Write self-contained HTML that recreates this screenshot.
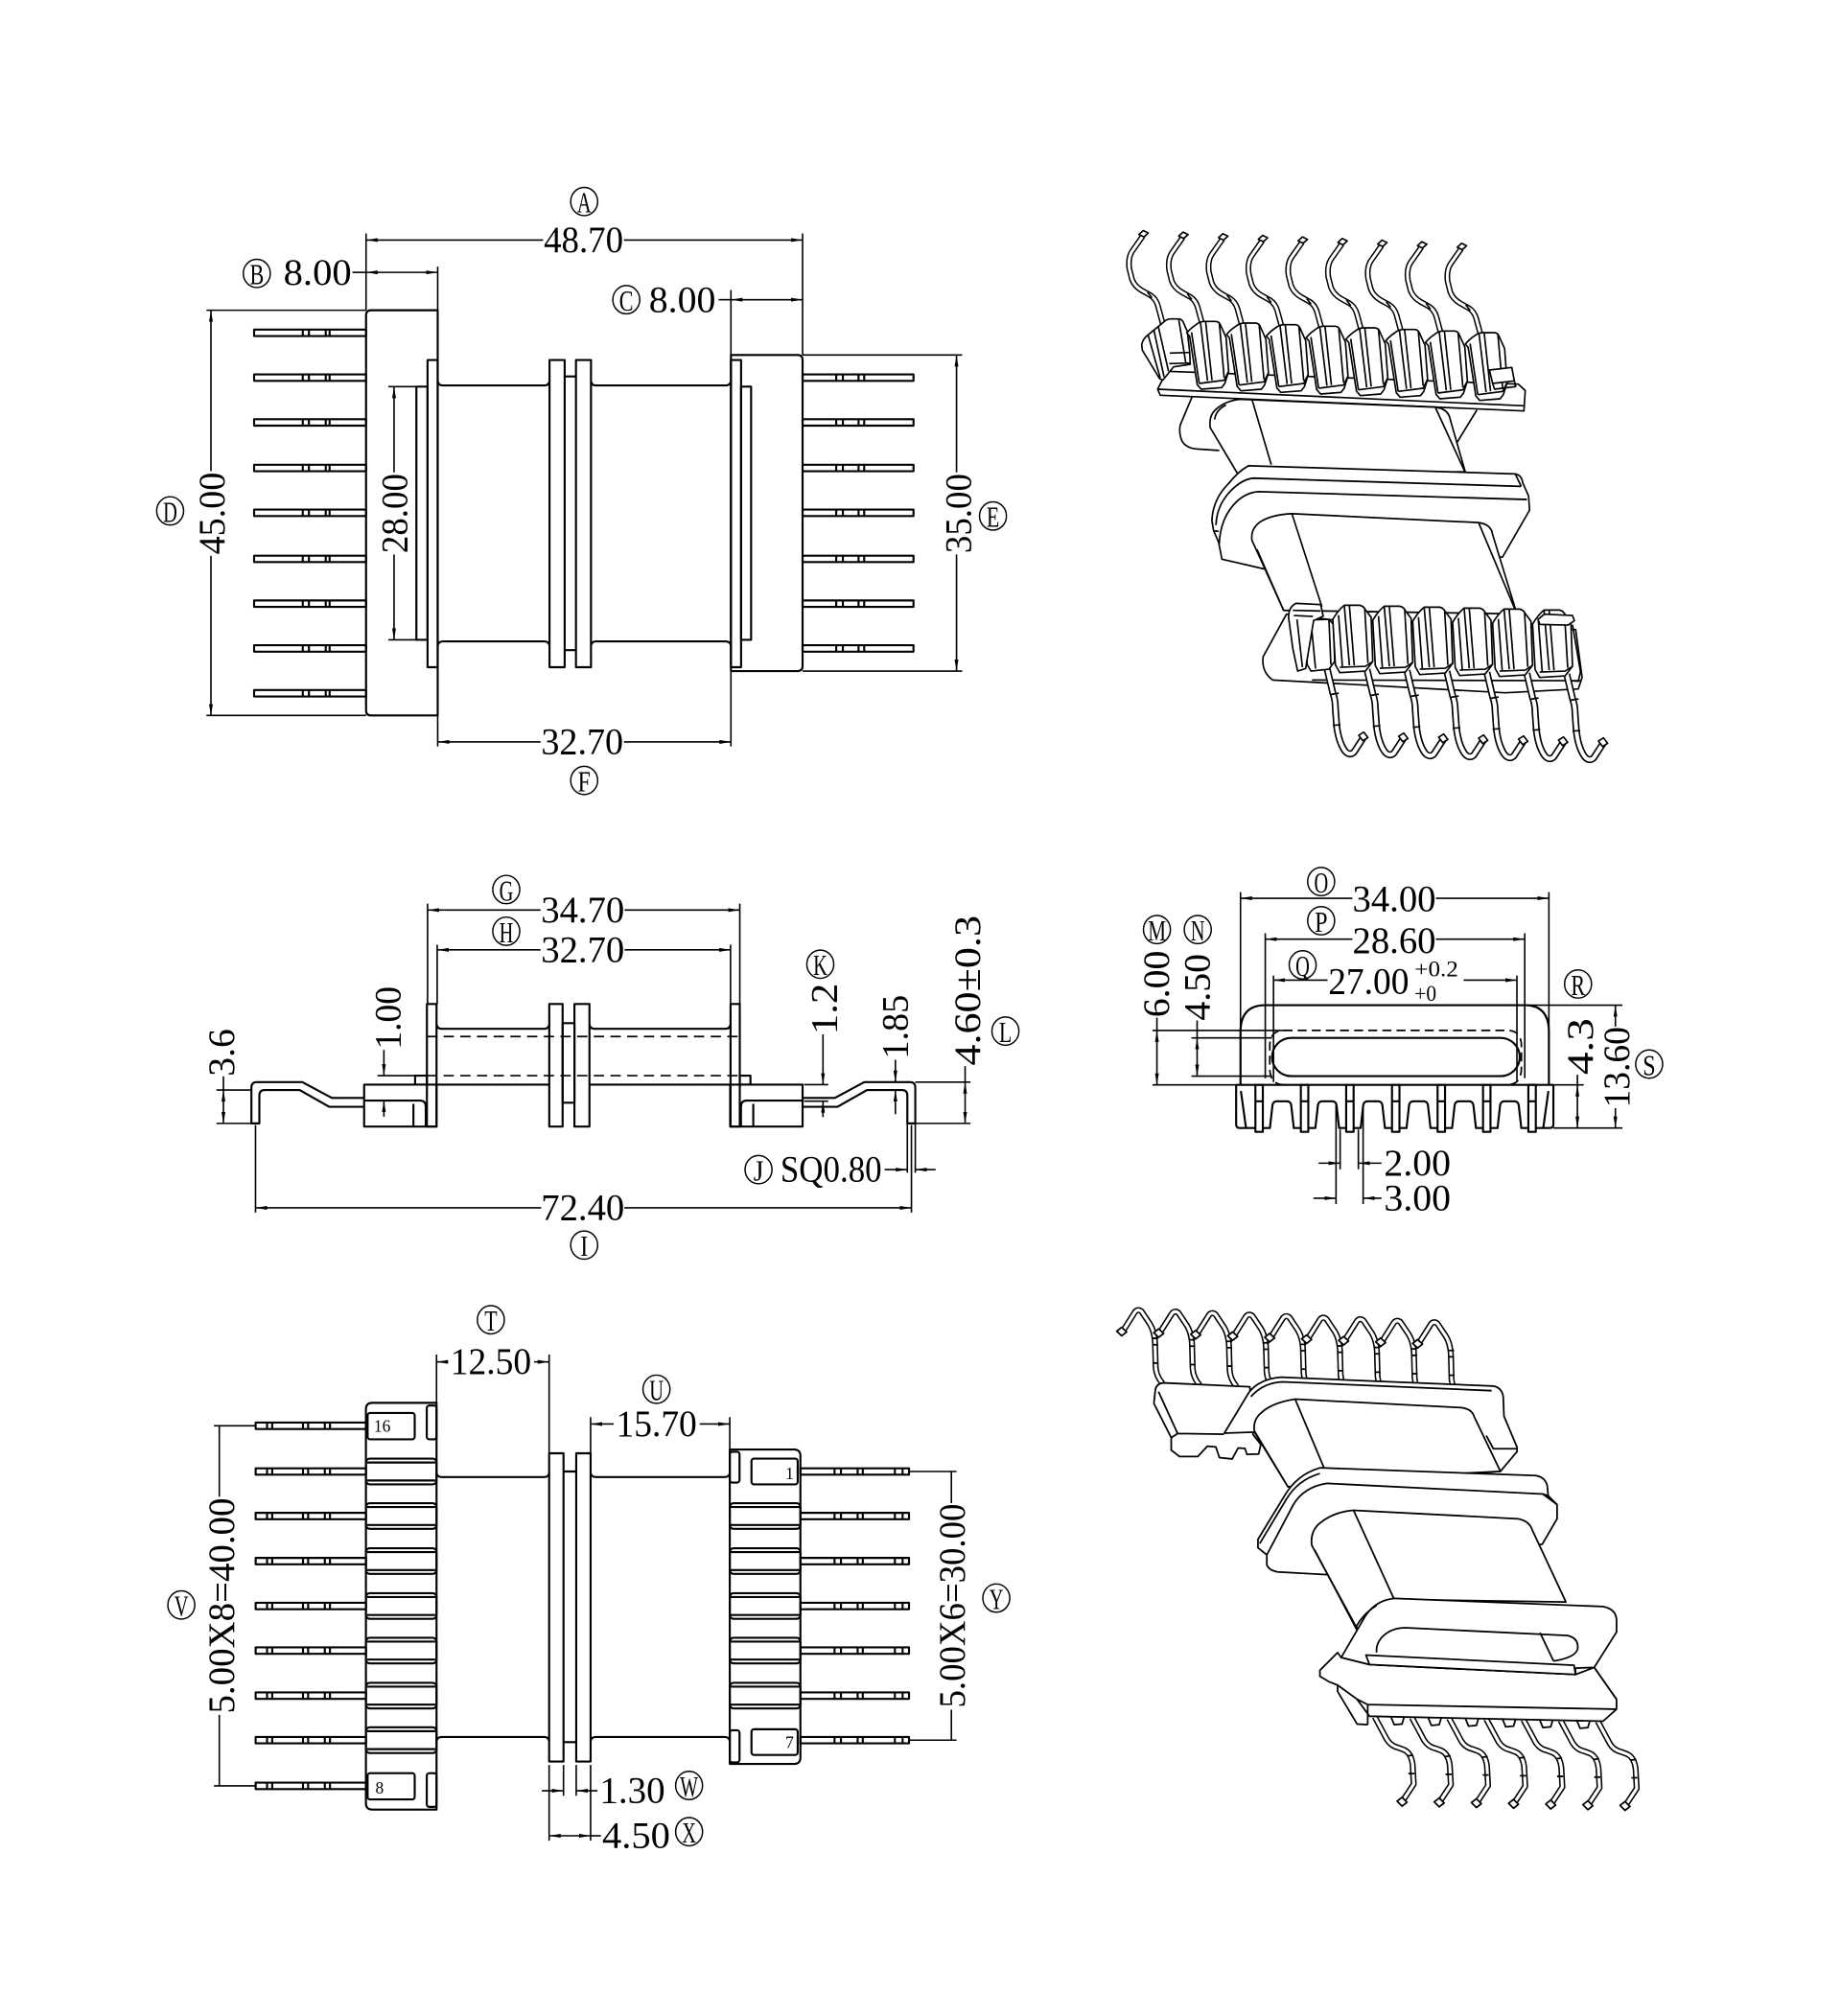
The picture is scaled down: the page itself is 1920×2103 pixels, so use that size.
<!DOCTYPE html>
<html><head><meta charset="utf-8"><style>
html,body{margin:0;padding:0;background:#fff;}
svg{display:block;}
text{font-family:"Liberation Serif",serif;fill:#000;stroke:none;}
</style></head><body>
<svg xmlns="http://www.w3.org/2000/svg" xmlns:xlink="http://www.w3.org/1999/xlink" width="1920" height="2103" viewBox="0 0 1433.9 1570.6">
<defs>
<marker id="ar" viewBox="0 0 9 3" refX="9" refY="1.5" markerWidth="9" markerHeight="3" markerUnits="userSpaceOnUse" orient="auto-start-reverse"><path d="M0,0L9,1.5L0,3z" fill="#000" stroke="none"/></marker>
<g id="pL"><rect x="197.9" y="-2.5" width="87.2" height="5"/><path d="M235.8,-2.5v5M240.6,-2.5v5M253.7,-2.5v5M256.7,-2.5v5"/></g>
<g id="pR"><rect x="625.1" y="-2.5" width="86.4" height="5"/><path d="M651.3,-2.5v5M656.5,-2.5v5M668.7,-2.5v5M673.1,-2.5v5"/></g>
<g id="pL2"><rect x="199.1" y="-2.5" width="85.9" height="5"/><path d="M208,-2.5v5M212,-2.5v5M236,-2.5v5M240,-2.5v5M253,-2.5v5M257,-2.5v5"/></g>
<g id="pR2"><rect x="623.4" y="-2.5" width="84.6" height="5"/><path d="M650,-2.5v5M655,-2.5v5M668,-2.5v5M672,-2.5v5M697,-2.5v5M703,-2.5v5"/></g>
<g id="ribL"><rect x="285" y="-10" width="55" height="20" rx="3"/><path d="M286,-7H339M286,7H339"/></g>
<g id="ribR"><rect x="568.4" y="-10" width="55" height="20" rx="3"/><path d="M569,-7H622.5M569,7H622.5"/></g>
<!-- top-right 3D: top part (z1 coords) -->
<g id="tp1"><path d="M65.9,-161.9 L31.5,-113 Q19,-93 23.2,-59.6 L31.5,-26.2 Q39.8,-4 62.8,9.3 L88.9,23.8 Q106.6,34.9 112.8,57.1 L132,128" stroke="#000" stroke-width="18" fill="none"/><path d="M65.9,-161.9 L31.5,-113 Q19,-93 23.2,-59.6 L31.5,-26.2 Q39.8,-4 62.8,9.3 L88.9,23.8 Q106.6,34.9 112.8,57.1 L132,128" stroke="#fff" stroke-width="9" fill="none"/><path d="M53.4,-166.3 L67,-178.6 L82.6,-170.8 L69.1,-158.6 Z" fill="#fff"/><path d="M80,14 L94,32"/></g>
<g id="tt1"><path d="M203,142 Q214,128 232,116 Q244,106 258,106 L294,106 Q304,107 308,116 L326,156 L334,262 L322,300 L312,313 L248,318 L236,304 L212,152 Z" fill="#fff"/><path d="M218,140 L242,300 M246,110 L268,292 M262,106 L282,290 M305,112 L320,282 M242,300 L320,290 L334,262"/></g>
<!-- top-right 3D: bottom part (z3 coords) -->
<g id="hk3"><path d="M282,262 L300,338 Q308,360 308,385 L312,440 Q318,492 338,520 Q352,536 366,524 L396,478" stroke="#000" stroke-width="22" fill="none"/><path d="M282,262 L300,338 Q308,360 308,385 L312,440 Q318,492 338,520 Q352,536 366,524 L396,478" stroke="#fff" stroke-width="12" fill="none"/><path d="M381,471 L397,461 L410,478 L394,488 Z" fill="#fff"/><path d="M295,343 L319,339 M300,440 L324,438"/></g>
<g id="tt3"><path d="M300,108 Q318,78 336,64 L384,64 Q396,66 402,78 L420,102 L425,240 L402,270 L322,275 L308,250 Z" fill="#fff"/><path d="M318,95 L330,255 M336,66 L352,252 M352,66 L367,252 M400,76 L410,245 M322,258 L402,255 L425,240"/></g>
<!-- bottom-right 3D elements (z7 coords) -->
<g id="zpin"><path d="M80,165 L118,105 Q126,96 136,104 L160,140 Q172,160 174,190 L176,262 Q178,288 196,308" stroke="#000" stroke-width="17" fill="none"/><path d="M80,165 L118,105 Q126,96 136,104 L160,140 Q172,160 174,190 L176,262 Q178,288 196,308" stroke="#fff" stroke-width="8.5" fill="none"/><path d="M66,160 L80,149 L94,162 L80,173 Z" fill="#fff"/><path d="M167,180 L183,180 M167,198 L183,198 M168,250 L184,250"/></g>
<g id="zbpin"><path d="M795,1250 L830,1315 Q842,1333 862,1337 L878,1343 Q898,1352 902,1385 L905,1440 L872,1490" stroke="#000" stroke-width="17" fill="none"/><path d="M795,1250 L830,1315 Q842,1333 862,1337 L878,1343 Q898,1352 902,1385 L905,1440 L872,1490" stroke="#fff" stroke-width="8.5" fill="none"/><path d="M858,1488 L872,1477 L886,1491 L872,1502 Z" fill="#fff"/><path d="M888,1360 L904,1358 M890,1410 L907,1410"/></g>
</defs>

<!-- ================= OBJECT LINES ================= -->
<g fill="none" stroke="#000" stroke-width="1.6" stroke-linejoin="round">
<!-- TOP-LEFT VIEW -->
<path d="M340.9,241.7H289Q285.1,241.7 285.1,245.6V553.5Q285.1,557.4 289,557.4H340.9Z"/>
<path d="M569.3,276.6H621.2Q625.1,276.6 625.1,280.5V518.9Q625.1,522.8 621.2,522.8H569.3Z"/>
<rect x="333" y="280.5" width="7.9" height="239.3"/>
<rect x="324.3" y="301.2" width="8.7" height="197.3"/>
<rect x="569.3" y="280.5" width="7.9" height="239.3"/>
<rect x="577.2" y="301.2" width="7.8" height="197.3"/>
<path d="M340.9,297Q341.5,300.3 345,300.3H424Q427.4,300.3 428,297M460.3,297Q460.9,300.3 464,300.3H565Q568.7,300.3 569.3,297"/>
<path d="M340.9,503Q341.5,499.7 345,499.7H424Q427.4,499.7 428,503M460.3,503Q460.9,499.7 464,499.7H565Q568.7,499.7 569.3,503"/>
<rect x="428" y="280.5" width="11.8" height="239.3"/>
<rect x="448.6" y="280.5" width="11.7" height="239.3"/>
<path d="M439.8,293.3H448.6M439.8,506.5H448.6"/>
<use xlink:href="#pL" y="259.3"/><use xlink:href="#pL" y="294.2"/><use xlink:href="#pL" y="329.1"/><use xlink:href="#pL" y="364.6"/><use xlink:href="#pL" y="399.5"/><use xlink:href="#pL" y="435.4"/><use xlink:href="#pL" y="470.3"/><use xlink:href="#pL" y="505.2"/><use xlink:href="#pL" y="540.1"/>
<use xlink:href="#pR" y="294.2"/><use xlink:href="#pR" y="329.1"/><use xlink:href="#pR" y="364.6"/><use xlink:href="#pR" y="399.5"/><use xlink:href="#pR" y="435.4"/><use xlink:href="#pR" y="470.3"/><use xlink:href="#pR" y="505.2"/>

<!-- MIDDLE-LEFT VIEW -->
<rect x="332.5" y="782.2" width="7.5" height="95.5"/>
<rect x="569" y="782.2" width="7.2" height="95.5"/>
<rect x="427.8" y="782.2" width="10.4" height="95.5"/>
<rect x="447.4" y="782.2" width="11.7" height="95.5"/>
<rect x="438.2" y="797.1" width="9.2" height="62"/>
<path d="M340,798Q340.5,801.5 344,801.5H424Q427.3,801.5 427.8,798M459.1,798Q459.6,801.5 463,801.5H565Q568.5,801.5 569,798"/>
<path d="M340,845H427.8M459.1,845H569"/>
<path d="M332.5,807.5H576.2M332.5,838H576.2" stroke-dasharray="8 5" stroke-width="1.3"/>
<rect x="323.3" y="838" width="9.2" height="7"/>
<rect x="576.2" y="838" width="8.3" height="7"/>
<rect x="283.6" y="845" width="56.4" height="32.7"/>
<rect x="568.7" y="845" width="56.4" height="32.7"/>
<path d="M283.6,857.4H327Q331.6,857.4 331.6,862V877.7M322,860V877.7"/>
<path d="M625.1,857.4H581.7Q577.1,857.4 577.1,862V877.7M586.7,860V877.7"/>
<path d="M283.6,855.4L258.5,855.4L235.5,843L200,843Q195.8,843 195.8,847.2L195.8,875.2L202,875.2L202,853.4Q202,849.2 206.2,849.2L233.4,849.2L256.4,862.3L283.6,862.3"/>
<path d="M625.1,855.4L650.2,855.4L673.2,843L708.7,843Q712.9,843 712.9,847.2L712.9,875.2L706.7,875.2L706.7,853.4Q706.7,849.2 702.5,849.2L675.3,849.2L652.3,862.3L625.1,862.3"/>

<!-- BOTTOM-LEFT VIEW -->
<path d="M340,1092.9H290Q285,1092.9 285,1097.9V1404.8Q285,1409.8 290,1409.8H340Z"/>
<rect x="286.3" y="1100.8" width="36.7" height="20.5" rx="2"/>
<rect x="332.4" y="1095" width="7.6" height="26.3" rx="2"/>
<rect x="286.3" y="1381.4" width="36.7" height="20.5" rx="2"/>
<rect x="332.4" y="1381.4" width="7.6" height="26.3" rx="2"/>
<use xlink:href="#ribL" y="1146.4"/><use xlink:href="#ribL" y="1181.1"/><use xlink:href="#ribL" y="1216.2"/><use xlink:href="#ribL" y="1251.2"/><use xlink:href="#ribL" y="1285.9"/><use xlink:href="#ribL" y="1321"/><use xlink:href="#ribL" y="1355.7"/>
<path d="M568.4,1129.3H618.4Q623.4,1129.3 623.4,1134.3V1369.2Q623.4,1374.2 618.4,1374.2H568.4Z"/>
<rect x="585.3" y="1136.4" width="36" height="20" rx="2"/>
<rect x="568.4" y="1131" width="7.6" height="24" rx="2"/>
<rect x="585.3" y="1347.2" width="36" height="20" rx="2"/>
<rect x="568.4" y="1348" width="7.6" height="25" rx="2"/>
<use xlink:href="#ribR" y="1181.1"/><use xlink:href="#ribR" y="1216.2"/><use xlink:href="#ribR" y="1251.2"/><use xlink:href="#ribR" y="1285.9"/><use xlink:href="#ribR" y="1321"/>
<use xlink:href="#pL2" y="1110.8"/><use xlink:href="#pL2" y="1146.4"/><use xlink:href="#pL2" y="1181.1"/><use xlink:href="#pL2" y="1216.2"/><use xlink:href="#pL2" y="1251.2"/><use xlink:href="#pL2" y="1285.9"/><use xlink:href="#pL2" y="1321"/><use xlink:href="#pL2" y="1355.7"/><use xlink:href="#pL2" y="1391.3"/>
<use xlink:href="#pR2" y="1146.4"/><use xlink:href="#pR2" y="1181.1"/><use xlink:href="#pR2" y="1216.2"/><use xlink:href="#pR2" y="1251.2"/><use xlink:href="#pR2" y="1285.9"/><use xlink:href="#pR2" y="1321"/><use xlink:href="#pR2" y="1355.7"/>
<path d="M340,1147.5Q340.5,1150.7 344,1150.7H424Q427.2,1150.7 427.7,1147.5M460,1147.5Q460.5,1150.7 464,1150.7H564.5Q568,1150.7 568.4,1147.5"/>
<path d="M340,1356.5Q340.5,1353.2 344,1353.2H424Q427.2,1353.2 427.7,1356.5M460,1356.5Q460.5,1353.2 464,1353.2H564.5Q568,1353.2 568.4,1356.5"/>
<rect x="427.7" y="1132.2" width="11.2" height="240.2"/>
<rect x="448.8" y="1132.2" width="11.2" height="240.2"/>
<path d="M438.9,1146.4H448.8M438.9,1357.2H448.8"/>

<!-- MIDDLE-RIGHT VIEW -->
<path d="M966.2,845.2V804Q966.2,783.1 985.5,783.1H1187.6Q1206.4,783.1 1206.4,804V845.2"/>
<path d="M1000,845 Q989,845 989,832 V815 Q989,802.8 1000,802.8 H1174 Q1185,802.8 1185,815 V832 Q1185,845 1174,845" stroke-dasharray="7 4" stroke-width="1.3"/>
<rect x="990.8" y="808.6" width="192.9" height="29.8" rx="14.9"/>
<path d="M962.8,845.2H1209.9"/>
<path d="M962.8,845.2V876Q962.8,878.8 965.6,878.8H977.8
M983.6,878.8H989.1L991.1,861Q991.6,858 994.6,858H1002.2Q1005.2,858 1005.7,861L1007.7,878.8H1013.2
M1019,878.8H1024.5L1026.5,861Q1027,858 1030,858H1037.5Q1040.5,858 1041,861L1043,878.8H1048.5
M1054.3,878.8H1059.8L1061.8,861Q1062.3,858 1065.3,858H1073.2Q1076.2,858 1076.7,861L1078.7,878.8H1084.2
M1090,878.8H1095.5L1097.5,861Q1098,858 1101,858H1108.7Q1111.7,858 1112.2,861L1114.2,878.8H1119.7
M1125.5,878.8H1131L1133,861Q1133.5,858 1136.5,858H1144.1Q1147.1,858 1147.6,861L1149.6,878.8H1155.1
M1160.9,878.8H1166.4L1168.4,861Q1168.9,858 1171.9,858H1179.4Q1182.4,858 1182.9,861L1184.9,878.8H1190.4
M1196.2,878.8H1207Q1209.9,878.8 1209.9,876V845.2
M966.5,850L970.5,878.8M1206,850L1202,878.8"/>
<rect x="977.8" y="845.2" width="5.8" height="36.6"/><rect x="1013.2" y="845.2" width="5.8" height="36.6"/><rect x="1048.5" y="845.2" width="5.8" height="36.6"/><rect x="1084.2" y="845.2" width="5.8" height="36.6"/><rect x="1119.7" y="845.2" width="5.8" height="36.6"/><rect x="1155.1" y="845.2" width="5.8" height="36.6"/><rect x="1190.4" y="845.2" width="5.8" height="36.6"/>
<path d="M977.8,858H983.6M1013.2,858H1019M1048.5,858H1054.3M1084.2,858H1090M1119.7,858H1125.5M1155.1,858H1160.9M1190.4,858H1196.2"/>
</g>

<!-- ================= 3D TOP-RIGHT: top pins/teeth (z1) ================= -->
<g transform="translate(873.8,224.05) scale(0.24894)" fill="none" stroke="#000" stroke-width="5" stroke-linejoin="round">
<use xlink:href="#tp1"/><use xlink:href="#tp1" transform="translate(124.5,5)"/><use xlink:href="#tp1" transform="translate(249,10)"/><use xlink:href="#tp1" transform="translate(373.5,15)"/><use xlink:href="#tp1" transform="translate(498,20)"/><use xlink:href="#tp1" transform="translate(622.5,25)"/><use xlink:href="#tp1" transform="translate(747,30)"/><use xlink:href="#tp1" transform="translate(871.5,35)"/><use xlink:href="#tp1" transform="translate(996,40)"/>
<path d="M112,318 L140,262 L1240,302 L1262,322 L1258,386 L120,337 Z" fill="#fff"/>
<path d="M112,318 L1258,370"/>
<path d="M62,178 Q66,160 82,148 L138,102 Q145,98 152,98 L178,98 Q188,99 192,108 L205,138 L212,200 L214,240 L162,248 L128,290 L118,285 L64,196 Z" fill="#fff"/>
<path d="M82,148 L120,283 M100,132 L132,280 M114,122 L146,262 M178,100 L200,236 M150,205 L212,203 M148,238 L214,236"/>
<use xlink:href="#tt1"/><use xlink:href="#tt1" transform="translate(124.5,5)"/><use xlink:href="#tt1" transform="translate(249,10)"/><use xlink:href="#tt1" transform="translate(373.5,15)"/><use xlink:href="#tt1" transform="translate(498,20)"/><use xlink:href="#tt1" transform="translate(622.5,25)"/><use xlink:href="#tt1" transform="translate(747,30)"/><use xlink:href="#tt1" transform="translate(871.5,35)"/>
<path d="M1150,258 L1220,250 L1228,292 L1160,300 Z" fill="#fff"/>
<path d="M1160,300 L1166,318 L1232,310 L1228,292"/>
</g>

<!-- ================= 3D TOP-RIGHT: cores & middle flange (z5) ================= -->
<g transform="translate(842.7,167.7) scale(0.2596,0.2768)" fill="none" stroke="#000" stroke-width="4.8" stroke-linejoin="round">
<path d="M330,512 L295,590 Q290,612 300,635 Q312,655 345,658 L412,662 M1185,548 L1125,640"/>
<path d="M385,598 Q380,565 400,548 Q430,522 475,518 L1060,540 Q1100,545 1105,575 L1150,722 L470,732 Z" fill="#fff"/>
<path d="M510,518 L568,702 M1060,540 L1148,720 M398,575 Q402,548 432,534"/>
<path d="M390,860 Q392,800 440,755 Q470,720 500,705 L1300,728 Q1320,732 1322,752 L1340,790 L1343,830 L1262,962 L545,995 L420,968 L410,920 L395,888 Z" fill="#fff"/>
<path d="M402,872 Q405,810 455,768 Q485,742 515,740 L1318,763 M412,925 Q415,850 465,805 Q495,780 530,778 L1335,800 M1300,728 L1318,763 M395,888 L410,890"/>
<path d="M510,915 Q505,880 540,860 Q575,842 630,840 L1190,865 Q1228,870 1232,898 L1305,1122 L605,1112 L520,935 Z" fill="#fff"/>
<path d="M630,840 L720,1102 M1190,865 L1305,1122 M525,940 L605,1112"/>
</g>

<!-- ================= 3D TOP-RIGHT: lower block & hooks (z3) ================= -->
<g transform="translate(963.4,455.6) scale(0.24894)" fill="none" stroke="#000" stroke-width="5" stroke-linejoin="round">
<path d="M155,92 L82,225 Q76,272 112,298 L840,338 L1068,326 L1080,290 L1060,140 L300,110 Z" fill="#fff"/>
<path d="M235,298 L1075,300"/>
<use xlink:href="#hk3"/><use xlink:href="#hk3" transform="translate(125,3)"/><use xlink:href="#hk3" transform="translate(250,6)"/><use xlink:href="#hk3" transform="translate(375,9)"/><use xlink:href="#hk3" transform="translate(500,12)"/><use xlink:href="#hk3" transform="translate(625,15)"/><use xlink:href="#hk3" transform="translate(750,18)"/>
<path d="M212,122 L228,110 L288,108 L302,124 L306,240 L288,264 L232,270 L220,250 Z" fill="#fff"/>
<path d="M232,118 L246,262 M288,110 L294,250"/>
<path d="M162,105 Q160,70 185,58 L262,62 L270,98 L240,112 L215,262 L190,270 L175,200 Z" fill="#fff"/>
<path d="M178,96 L238,99 M175,80 L262,82 M188,108 L205,258"/>
<use xlink:href="#tt3"/><use xlink:href="#tt3" transform="translate(125,3)"/><use xlink:href="#tt3" transform="translate(250,6)"/><use xlink:href="#tt3" transform="translate(375,9)"/><use xlink:href="#tt3" transform="translate(500,12)"/><use xlink:href="#tt3" transform="translate(625,15)"/>
<path d="M942,108 L962,92 L1050,96 L1056,112 L1036,126 L948,124 Z" fill="#fff"/>
<path d="M1050,125 L1075,272 L1068,302 L1045,300"/>
</g>

<!-- ================= 3D BOTTOM-RIGHT (z7) ================= -->
<g transform="translate(851.6,993) scale(0.2757)" fill="none" stroke="#000" stroke-width="4.8" stroke-linejoin="round">
<use xlink:href="#zpin"/><use xlink:href="#zpin" transform="translate(104.5,4.3)"/><use xlink:href="#zpin" transform="translate(209,8.6)"/><use xlink:href="#zpin" transform="translate(313.5,12.9)"/><use xlink:href="#zpin" transform="translate(418,17.2)"/><use xlink:href="#zpin" transform="translate(522.5,21.5)"/><use xlink:href="#zpin" transform="translate(627,25.8)"/><use xlink:href="#zpin" transform="translate(731.5,30.1)"/><use xlink:href="#zpin" transform="translate(836,34.4)"/>
<path d="M175,326 Q178,308 198,306 L442,317 L451,452 L473,480 L467,507 L434,508 L428,491 L409,490 L392,521 L356,517 L346,487 L322,485 L295,514 L243,514 L220,496 L220,461 L171,364 Z" fill="#fff"/>
<path d="M184,331 L238,449 L369,451 M220,461 L238,449"/>
<path d="M370,448 L440,332 Q470,295 530,290 L1130,315 Q1156,320 1158,348 L1160,400 L1197,488 L1197,500 L1150,556 L550,600 L455,445 Z" fill="#fff"/>
<path d="M445,345 Q480,305 535,303 L1125,328 M1110,455 L1130,492 L1197,492"/>
<path d="M455,442 Q450,410 475,390 Q505,362 570,352 L1040,376 Q1070,380 1076,402 L1150,556 L665,580 L550,600 Z" fill="#fff"/>
<path d="M570,352 L665,578"/>
<path d="M465,748 L540,625 Q575,565 640,546 L1250,568 Q1275,572 1282,595 L1285,625 L1310,650 L1310,690 L1268,762 L700,850 L520,840 Q495,835 490,820 L490,792 L465,772 Z" fill="#fff"/>
<path d="M490,792 L565,650 Q595,600 660,590 L1270,620 L1310,650 M470,760 L545,635 Q578,580 640,562 M1285,625 L1270,620"/>
<path d="M617,765 Q612,725 640,702 Q680,670 735,666 L1200,690 Q1232,696 1240,722 L1335,925 L850,918 L745,1000 Z" fill="#fff"/>
<path d="M735,666 L850,918 M625,778 L745,1005"/>
<use xlink:href="#zbpin"/><use xlink:href="#zbpin" transform="translate(105,2)"/><use xlink:href="#zbpin" transform="translate(210,4)"/><use xlink:href="#zbpin" transform="translate(315,6)"/><use xlink:href="#zbpin" transform="translate(420,8)"/><use xlink:href="#zbpin" transform="translate(525,10)"/><use xlink:href="#zbpin" transform="translate(630,12)"/>
<path d="M640,1118 L690,1068 L700,1082 L780,1102 L1362,1130 L1415,1110 L1478,1200 L1478,1228 L1440,1262 L780,1248 L745,1200 L690,1160 L665,1150 L640,1135 Z" fill="#fff"/>
<path d="M745,1200 L775,1215 L1478,1228 M775,1215 L775,1272 M690,1160 L690,1178 L745,1270 L775,1272 M1415,1110 L1478,1200"/>
<path d="M840,1248 L850,1272 L872,1270 L878,1250 M945,1250 L955,1274 L977,1272 L983,1252 M1050,1252 L1060,1276 L1082,1274 L1088,1254 M1155,1254 L1165,1278 L1187,1276 L1193,1256 M1260,1256 L1270,1280 L1292,1278 L1298,1258 M1365,1258 L1375,1282 L1397,1280 L1403,1260"/>
<path d="M700,1082 L770,962 Q800,920 850,915 L1440,938 Q1476,945 1478,975 L1478,1010 L1415,1110 L1362,1112 L1362,1130 L780,1102 Z" fill="#fff"/>
<path d="M800,1068 Q798,1040 820,1020 Q845,998 882,998 L1340,1020 Q1372,1028 1368,1058 Q1362,1082 1300,1092 M1262,1012 L1300,1092"/>
<path d="M770,1075 L1358,1104 L1362,1130 L780,1102 Z" fill="#fff"/>
<path d="M740,1000 Q760,960 800,935"/>
</g>

<!-- ================= DIMENSIONS ================= -->
<g fill="none" stroke="#000" stroke-width="1.2">
<!-- top-left -->
<path d="M285.1,181.9V241.7M625.1,181.9V276.6M340.9,207.7V241.7M569.3,225.9V276.6"/>
<path d="M285.1,187H423" marker-start="url(#ar)"/><path d="M486,187H625.1" marker-end="url(#ar)"/>
<path d="M274.5,212.2H285.1"/><path d="M285.1,212.2H340.9" marker-start="url(#ar)" marker-end="url(#ar)"/>
<path d="M559.7,233.5H569.3"/><path d="M569.3,233.5H625.1" marker-start="url(#ar)" marker-end="url(#ar)"/>
<path d="M160.8,241.7H285.1M160.8,557.4H285.1"/>
<path d="M164.3,241.7V367" marker-start="url(#ar)"/><path d="M164.3,433V557.4" marker-end="url(#ar)"/>
<path d="M302.5,301.2H324.3M302.5,498.5H324.3"/>
<path d="M306.9,301.2V368" marker-start="url(#ar)"/><path d="M306.9,432V498.5" marker-end="url(#ar)"/>
<path d="M625.1,276.6H749.4M625.1,522.8H749.4"/>
<path d="M745,276.6V368" marker-start="url(#ar)"/><path d="M745,432V522.8" marker-end="url(#ar)"/>
<path d="M340.9,557.4V581.5M569.3,522.8V581.5"/>
<path d="M340.9,578H421" marker-start="url(#ar)"/><path d="M486,578H569.3" marker-end="url(#ar)"/>
<!-- middle-left -->
<path d="M333,704V782.2M576.2,704V782.2M340.5,736V782.2M569,736V782.2"/>
<path d="M333,709H421" marker-start="url(#ar)"/><path d="M486.5,709H576.2" marker-end="url(#ar)"/>
<path d="M340.5,740H421" marker-start="url(#ar)"/><path d="M486.5,740H569" marker-end="url(#ar)"/>
<path d="M168.6,849.2H195.8M168.6,875.2H195.8M174,838.5V849.2"/>
<path d="M174,849.2V875.2" marker-start="url(#ar)" marker-end="url(#ar)"/>
<path d="M294,838H323.3"/>
<path d="M299,818V838" marker-end="url(#ar)"/><path d="M299,870V857.4" marker-end="url(#ar)"/>
<path d="M626.3,845H645.1M626.3,857.9H645.1"/>
<path d="M641,805.8V845" marker-end="url(#ar)"/><path d="M641,870.3V857.9" marker-end="url(#ar)"/>
<path d="M697.4,825.6V843" marker-end="url(#ar)"/><path d="M697.4,868V849.2" marker-end="url(#ar)"/>
<path d="M712.9,843H755.9M712.9,875.2H755.9M751.7,830.6V843"/>
<path d="M751.7,843V875.2" marker-start="url(#ar)" marker-end="url(#ar)"/>
<path d="M706.7,875.2V913.7M712.9,875.2V913.7"/>
<path d="M689,911.2H706.7" marker-end="url(#ar)"/><path d="M728.7,911.2H712.9" marker-end="url(#ar)"/>
<path d="M199,876.5V944.7M709.9,876.5V944.7"/>
<path d="M199,941H421.5" marker-start="url(#ar)"/><path d="M486.3,941H709.9" marker-end="url(#ar)"/>
<!-- bottom-left -->
<path d="M340,1055.3V1092.9M427.7,1055.3V1132.2"/>
<path d="M348,1061H340" marker-end="url(#ar)"/><path d="M416,1061H427.7" marker-end="url(#ar)"/>
<path d="M460,1104V1132.2M568.4,1104V1129.3"/>
<path d="M478,1109.4H460" marker-end="url(#ar)"/><path d="M545,1109.4H568.4" marker-end="url(#ar)"/>
<path d="M166.6,1110.8H199.1M166.6,1391.3H199.1M170.8,1110.8V1166M170.8,1336V1391.3"/>
<path d="M708,1146.4H745M708,1355.7H745M741,1146.4V1171M741,1332V1355.7"/>
<path d="M427.7,1375V1434M460,1375V1434M438.9,1375V1399M448.8,1375V1399"/>
<path d="M422,1395.1H438.9" marker-end="url(#ar)"/><path d="M465.3,1395.1H448.8" marker-end="url(#ar)"/>
<path d="M427.7,1430.2H460" marker-start="url(#ar)" marker-end="url(#ar)"/><path d="M460,1430.2H468"/>
<!-- middle-right -->
<path d="M966.2,695V845.2M1206.4,695V804"/>
<path d="M966.2,699.8H1053.3" marker-start="url(#ar)"/><path d="M1118.4,699.8H1206.4" marker-end="url(#ar)"/>
<path d="M985.5,727V840M1187.6,727V840"/>
<path d="M985.5,731.7H1053.3" marker-start="url(#ar)"/><path d="M1118.4,731.7H1187.6" marker-end="url(#ar)"/>
<path d="M991.9,760V843M1181.5,760V843"/>
<path d="M991.9,763.6H1034" marker-start="url(#ar)"/><path d="M1140,763.6H1181.5" marker-end="url(#ar)"/>
<path d="M1187.6,783.1H1263.7"/>
<path d="M897.7,802.8H1000.8M897.7,845.2H966.2M928,808.6H990.8M928,838.4H990.8"/>
<path d="M901.1,792.8V802.8"/><path d="M901.1,802.8V845.2" marker-start="url(#ar)" marker-end="url(#ar)"/>
<path d="M932.4,795V808.6"/><path d="M932.4,808.6V838.4" marker-start="url(#ar)" marker-end="url(#ar)"/>
<path d="M1209.9,845.2H1233.5M1209.9,878.8H1263.7M1228.6,837.3V845.2"/>
<path d="M1228.6,845.2V878.8" marker-start="url(#ar)" marker-end="url(#ar)"/>
<path d="M1258.2,783.1V799.8" marker-start="url(#ar)"/><path d="M1258.2,863.3V878.8" marker-end="url(#ar)"/>
<path d="M1043.8,880V911M1058,880V911M1040.6,861V938M1061.7,861V938"/>
<path d="M1027,906.2H1043.8" marker-end="url(#ar)"/><path d="M1076,906.2H1058" marker-end="url(#ar)"/>
<path d="M1023,933.5H1040.6" marker-end="url(#ar)"/><path d="M1076,933.5H1061.7" marker-end="url(#ar)"/>
</g>

<!-- circles -->
<g fill="none" stroke="#000" stroke-width="1.1">
<ellipse cx="455" cy="157" rx="10.5" ry="11"/><ellipse cx="200" cy="213" rx="10.5" ry="11"/><ellipse cx="487.8" cy="233.5" rx="10.5" ry="11"/><ellipse cx="132.5" cy="398" rx="10.5" ry="11"/><ellipse cx="773.4" cy="402" rx="10.5" ry="11"/><ellipse cx="455" cy="608" rx="10.5" ry="11"/>
<ellipse cx="394.3" cy="693" rx="10.5" ry="11"/><ellipse cx="394.3" cy="725.5" rx="10.5" ry="11"/><ellipse cx="638.9" cy="751.2" rx="10.5" ry="11"/><ellipse cx="783.1" cy="803.3" rx="10.5" ry="11"/><ellipse cx="590.8" cy="911.2" rx="10.5" ry="11"/><ellipse cx="455" cy="970" rx="10.5" ry="11"/>
<ellipse cx="382.3" cy="1028.2" rx="10.5" ry="11"/><ellipse cx="511.3" cy="1082.3" rx="10.5" ry="11"/><ellipse cx="141.2" cy="1250.4" rx="10.5" ry="11"/><ellipse cx="776" cy="1245" rx="10.5" ry="11"/><ellipse cx="536.7" cy="1391" rx="10.5" ry="11"/><ellipse cx="536.7" cy="1427" rx="10.5" ry="11"/>
<ellipse cx="1029" cy="686.8" rx="10.5" ry="11"/><ellipse cx="1029" cy="717.3" rx="10.5" ry="11"/><ellipse cx="1014.6" cy="751.7" rx="10.5" ry="11"/><ellipse cx="1229.1" cy="766.6" rx="10.5" ry="11"/><ellipse cx="901.1" cy="724.2" rx="10.5" ry="11"/><ellipse cx="932.9" cy="724.2" rx="10.5" ry="11"/><ellipse cx="1284.5" cy="829" rx="10.5" ry="11"/>
</g>
<g font-size="23" text-anchor="middle" dominant-baseline="central">
<text x="455" y="158" textLength="11" lengthAdjust="spacingAndGlyphs">A</text>
<text x="200" y="214" textLength="11" lengthAdjust="spacingAndGlyphs">B</text>
<text x="487.8" y="234.5" textLength="11" lengthAdjust="spacingAndGlyphs">C</text>
<text x="132.5" y="399" textLength="11" lengthAdjust="spacingAndGlyphs">D</text>
<text x="773.4" y="403" textLength="10" lengthAdjust="spacingAndGlyphs">E</text>
<text x="455" y="609" textLength="10" lengthAdjust="spacingAndGlyphs">F</text>
<text x="394.3" y="694" textLength="11" lengthAdjust="spacingAndGlyphs">G</text>
<text x="394.3" y="726.5" textLength="11" lengthAdjust="spacingAndGlyphs">H</text>
<text x="638.9" y="752.2" textLength="11" lengthAdjust="spacingAndGlyphs">K</text>
<text x="783.1" y="804.3" textLength="10" lengthAdjust="spacingAndGlyphs">L</text>
<text x="590.8" y="912.2" textLength="8" lengthAdjust="spacingAndGlyphs">J</text>
<text x="455" y="971" textLength="6" lengthAdjust="spacingAndGlyphs">I</text>
<text x="382.3" y="1029.2" textLength="10" lengthAdjust="spacingAndGlyphs">T</text>
<text x="511.3" y="1083.3" textLength="11" lengthAdjust="spacingAndGlyphs">U</text>
<text x="141.2" y="1251.4" textLength="11" lengthAdjust="spacingAndGlyphs">V</text>
<text x="776" y="1246" textLength="11" lengthAdjust="spacingAndGlyphs">Y</text>
<text x="536.7" y="1392" textLength="14" lengthAdjust="spacingAndGlyphs">W</text>
<text x="536.7" y="1428" textLength="11" lengthAdjust="spacingAndGlyphs">X</text>
<text x="1029" y="687.8" textLength="11" lengthAdjust="spacingAndGlyphs">O</text>
<text x="1029" y="718.3" textLength="10" lengthAdjust="spacingAndGlyphs">P</text>
<text x="1014.6" y="752.7" textLength="11" lengthAdjust="spacingAndGlyphs">Q</text>
<text x="1229.1" y="767.6" textLength="11" lengthAdjust="spacingAndGlyphs">R</text>
<text x="901.1" y="725.2" textLength="14" lengthAdjust="spacingAndGlyphs">M</text>
<text x="932.9" y="725.2" textLength="11" lengthAdjust="spacingAndGlyphs">N</text>
<text x="1284.5" y="830" textLength="10" lengthAdjust="spacingAndGlyphs">S</text>
</g>

<!-- dimension texts -->
<g font-size="29" text-anchor="middle" dominant-baseline="central">
<text x="454.5" y="187" textLength="62" lengthAdjust="spacingAndGlyphs">48.70</text>
<text x="247.3" y="212.5" textLength="53" lengthAdjust="spacingAndGlyphs">8.00</text>
<text x="531.4" y="233.8" textLength="52" lengthAdjust="spacingAndGlyphs">8.00</text>
<text transform="translate(165.5,400) rotate(-90)" textLength="64" lengthAdjust="spacingAndGlyphs">45.00</text>
<text transform="translate(307.5,400) rotate(-90)" textLength="62" lengthAdjust="spacingAndGlyphs">28.00</text>
<text transform="translate(747,400) rotate(-90)" textLength="62" lengthAdjust="spacingAndGlyphs">35.00</text>
<text x="453.5" y="578" textLength="64" lengthAdjust="spacingAndGlyphs">32.70</text>
<text x="453.9" y="709" textLength="65" lengthAdjust="spacingAndGlyphs">34.70</text>
<text x="453.9" y="740" textLength="65" lengthAdjust="spacingAndGlyphs">32.70</text>
<text transform="translate(172.8,820) rotate(-90)" textLength="37" lengthAdjust="spacingAndGlyphs">3.6</text>
<text transform="translate(302.4,793) rotate(-90)" textLength="49" lengthAdjust="spacingAndGlyphs">1.00</text>
<text transform="translate(642.2,786) rotate(-90)" textLength="40" lengthAdjust="spacingAndGlyphs">1.2</text>
<text transform="translate(697.4,800) rotate(-90)" textLength="50" lengthAdjust="spacingAndGlyphs">1.85</text>
<text transform="translate(754,771.7) rotate(-90)" textLength="117" lengthAdjust="spacingAndGlyphs">4.60±0.3</text>
<text x="647.3" y="911.2" textLength="79" lengthAdjust="spacingAndGlyphs">SQ0.80</text>
<text x="453.9" y="941" textLength="65" lengthAdjust="spacingAndGlyphs">72.40</text>
<text x="382.3" y="1061" textLength="63" lengthAdjust="spacingAndGlyphs">12.50</text>
<text x="511.3" y="1109.4" textLength="63" lengthAdjust="spacingAndGlyphs">15.70</text>
<text transform="translate(173,1251) rotate(-90)" textLength="168" lengthAdjust="spacingAndGlyphs">5.00X8=40.00</text>
<text transform="translate(742,1251) rotate(-90)" textLength="159" lengthAdjust="spacingAndGlyphs">5.00X6=30.00</text>
<text x="492.5" y="1395.1" textLength="51" lengthAdjust="spacingAndGlyphs">1.30</text>
<text x="495.5" y="1430.2" textLength="53" lengthAdjust="spacingAndGlyphs">4.50</text>
<text x="1085.9" y="700.5" textLength="65" lengthAdjust="spacingAndGlyphs">34.00</text>
<text x="1085.9" y="733" textLength="65" lengthAdjust="spacingAndGlyphs">28.60</text>
<text x="1066" y="764.7" textLength="63" lengthAdjust="spacingAndGlyphs">27.00</text>
<text transform="translate(901.1,766.6) rotate(-90)" textLength="52" lengthAdjust="spacingAndGlyphs">6.00</text>
<text transform="translate(932.9,769.1) rotate(-90)" textLength="52" lengthAdjust="spacingAndGlyphs">4.50</text>
<text transform="translate(1231,815.3) rotate(-90)" textLength="44" lengthAdjust="spacingAndGlyphs">4.3</text>
<text transform="translate(1259.6,831.5) rotate(-90)" textLength="63" lengthAdjust="spacingAndGlyphs">13.60</text>
<text x="1104" y="906.2" textLength="52" lengthAdjust="spacingAndGlyphs">2.00</text>
<text x="1104" y="933.5" textLength="52" lengthAdjust="spacingAndGlyphs">3.00</text>
</g>
<g font-size="17" dominant-baseline="central">
<text x="1101.8" y="755" textLength="34" lengthAdjust="spacingAndGlyphs">+0.2</text>
<text x="1101.8" y="774" textLength="17" lengthAdjust="spacingAndGlyphs">+0</text>
</g>
<g font-size="13" text-anchor="middle" dominant-baseline="central">
<text x="297.7" y="1111">16</text>
<text x="295.6" y="1392.7">8</text>
<text x="615" y="1147.8">1</text>
<text x="615" y="1357.2">7</text>
</g>
</svg>
</body></html>
